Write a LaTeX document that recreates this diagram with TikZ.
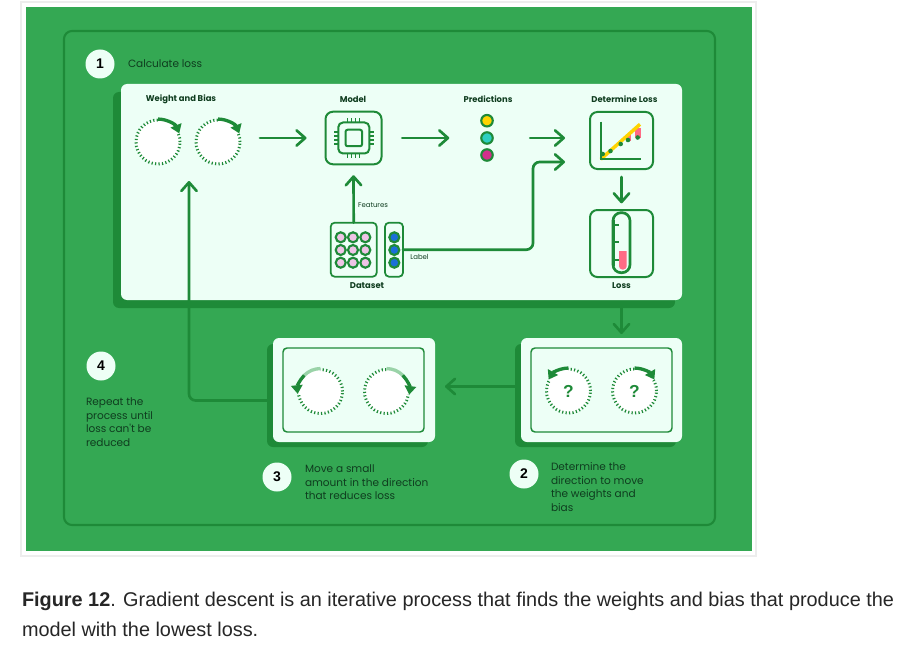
\documentclass[tikz,border=0pt]{standalone}
\usepackage{fontspec}
\setmainfont{Liberation Sans}
\newfontfamily\labelfont{Poppins}
\usetikzlibrary{arrows.meta}
\usetikzlibrary{calc}
\definecolor{leaf}{HTML}{34A853}
\definecolor{pine}{HTML}{1E8A38}
\definecolor{mint}{HTML}{EDFFF6}
\definecolor{ink}{HTML}{0F3D1F}
\definecolor{rose}{HTML}{FF6B85}
\definecolor{sun}{HTML}{FFD400}
\definecolor{lilac}{HTML}{EFC4E6}
\definecolor{faded}{HTML}{9AD3A8}
\definecolor{teal}{HTML}{2CCFC0}
\definecolor{berry}{HTML}{D32F8C}
\definecolor{azure}{HTML}{1A6FD8}
\def\px{0.75pt}
\tikzset{
   sized/.style 2 args={minimum width=#1*\px,minimum height=#2*\px,inner sep=0pt,outer sep=0pt},
   panel/.style={fill=mint,rounded corners=4.5pt},
   shade/.style={fill=pine,rounded corners=4.5pt},
   iconbox/.style={draw=pine,line width=1.5pt,rounded corners=5.5pt},
   frame/.style={draw=pine,line width=1.1pt,rounded corners=3pt},
   flow/.style={draw=pine,line width=2pt,rounded corners=5pt,line cap=round,
      -{Straight Barb[length=6.5pt,width=11.5pt,line width=2pt,round]}},
   stepnum/.style={circle,fill=mint,inner sep=0pt,outer sep=0pt,minimum size=29*\px,
      font=\fontsize{10.5}{12}\selectfont\bfseries,text=black},
   steptext/.style={anchor=north west,align=left,inner sep=0pt,outer sep=0pt,text=ink,
      font=\labelfont\fontsize{7.9}{10.3}\selectfont},
   title/.style={inner sep=0pt,outer sep=0pt,text=ink,font=\labelfont\fontsize{6.3}{7}\selectfont\bfseries},
   small/.style={inner sep=0pt,outer sep=0pt,text=ink,font=\labelfont\fontsize{5.2}{6}\selectfont},
   dial/.style={circle,fill=white,draw=pine,line width=2.2pt,dash pattern=on 0.9pt off 1.7pt,
      minimum size=44*\px,inner sep=0pt,outer sep=0pt,text=pine,
      font=\fontsize{13}{14}\selectfont\bfseries},
   turn/.style={draw=pine,line width=2.5pt,-{Triangle[length=6.5pt,width=8.5pt]}},
   trail/.style={draw=faded,line width=2.5pt},
   ball/.style={circle,draw=pine,line width=1.6pt,inner sep=0pt,outer sep=0pt,minimum size=#1*\px},
   pin/.style={draw=pine,line width=1pt},
}
\newcommand{\dialarc}[4][turn]{
   \draw[draw=white,line width=2.6pt] ([shift={(#3:15.6pt)}]#2.center) arc[start angle=#3,end angle=#4,radius=15.6pt];
   \draw[#1] ([shift={(#3:17.2pt)}]#2.center) arc[start angle=#3,end angle=#4,radius=17.2pt];
}
\begin{document}
\begin{tikzpicture}[x=\px,y=-\px]
   \useasboundingbox[fill=white] (0,0) rectangle (902,649);
   \node[sized={735}{554},draw=black!7,line width=0.8pt,anchor=north west] (sheet) at (21,2) {};
   \node[sized={726}{544},fill=leaf,anchor=north west] (ground) at (26,7) {};
   \node[sized={651}{494},draw=pine,line width=1.6pt,rounded corners=6pt,anchor=north west] (outer) at (64,31) {};

   \node[sized={562}{216},shade,anchor=north west] (mainshade) at (113,92) {};
   \node[sized={561}{216},panel,anchor=north west] (main) at (121,84) {};
   \node[sized={161}{103},shade,anchor=north west] (moveshade) at (267,344) {};
   \node[sized={162}{104},panel,anchor=north west] (move) at (273,338) {};
   \node[sized={161}{103},shade,anchor=north west] (dirshade) at (515,344) {};
   \node[sized={161}{104},panel,anchor=north west] (dir) at (521,338) {};
   \node[sized={141}{84},frame,anchor=north west] (moveframe) at (283,348) {};
   \node[sized={141}{84},frame,anchor=north west] (dirframe) at (531,348) {};

   \node[stepnum] (one) at (100,64) {1};
   \node[stepnum] (four) at (101,366) {4};
   \node[stepnum] (three) at (277,477) {3};
   \node[stepnum] (two) at (524,474) {2};

   \node[steptext,anchor=west] (onetext) at (128,63.5) {Calculate loss};
   \node[steptext] (fourtext) at (86,397.5) {Repeat the\\process until\\loss can't be\\reduced};
   \node[steptext] (threetext) at (305,464.5) {Move a small\\amount in the direction\\that reduces loss};
   \node[steptext] (twotext) at (551,462.5) {Determine the\\direction to move\\the weights and\\bias};

   \node[title] (weighttitle) at (181,99.5) {Weight and Bias};
   \node[title] (modeltitle) at (353,99.5) {Model};
   \node[title] (predtitle) at (488,99.5) {Predictions};
   \node[title] (determinetitle) at (624.5,99.5) {Determine Loss};
   \node[title] (datatitle) at (367,285.5) {Dataset};
   \node[title] (losstitle) at (621.5,285.5) {Loss};
   \node[small] (featuretext) at (373,205.5) {Features};
   \node[small] (labeltext) at (419.5,257) {Label};

   \node[dial] (weightdial) at (158,142) {};
   \node[dial] (biasdial) at (218,142) {};
   \dialarc{weightdial}{90}{22}
   \dialarc{biasdial}{90}{22}
   \node[dial] (dirweight) at (568.5,391) {?};
   \node[dial] (dirbias) at (634.5,391) {?};
   \dialarc{dirweight}{90}{150}
   \dialarc{dirbias}{90}{30}
   \node[dial] (moveweight) at (320.5,391.5) {};
   \node[dial] (movebias) at (386.5,391.5) {};
   \dialarc[trail]{moveweight}{90}{135}
   \dialarc{moveweight}{135}{186}
   \dialarc[trail]{movebias}{90}{45}
   \dialarc{movebias}{45}{-8}

   \node[sized={56}{52.5},iconbox] (model) at (353.5,138) {};
   \node[sized={31}{31},draw=pine,line width=1.5pt,rounded corners=3.5pt] (chip) at (353.8,138) {};
   \node[sized={16.5}{16.5},draw=pine,line width=1.5pt,rounded corners=1.5pt] (core) at (353.8,138) {};
   \foreach \off in {-6,-2,2,6} {
      \draw[pin] ($(chip.north)+(\off,0)$) -- ++(0,-4.5);
      \draw[pin] ($(chip.south)+(\off,0)$) -- ++(0,4.5);
      \draw[pin] ($(chip.west)+(0,\off)$) -- ++(-4.5,0);
      \draw[pin] ($(chip.east)+(0,\off)$) -- ++(4.5,0);
   }

   \node[ball=11.5,fill=sun] (predone) at (487,120.7) {};
   \node[ball=11.5,fill=teal] (predtwo) at (487,138) {};
   \node[ball=11.5,fill=berry] (predthree) at (487,155) {};

   \node[sized={46}{54},iconbox,line width=1.3pt,rounded corners=3pt] (features) at (353.7,249.7) {};
   \node[sized={18}{54},iconbox,line width=1.3pt,rounded corners=3pt] (labels) at (394,249.7) {};
   \foreach \row/\yy in {a/237.3,b/250,c/262.7} {
      \foreach \col/\xx in {a/340.7,b/353,c/365.3} {
         \node[ball=10,fill=lilac] (feat\row\col) at (\xx,\yy) {};
      }
      \node[ball=10,fill=azure] (lab\row) at (394.3,\yy) {};
   }

   \node[sized={63}{57},iconbox] (plot) at (621.5,140.5) {};
   \coordinate (plotcorner) at (600.7,159.3);
   \fill[rose] (635,128) rectangle (640.5,138);
   \fill[rose] (626,135) rectangle (631,141);
   \draw[draw=sun,line width=2.6pt] (plotcorner) -- (640,124.3);
   \draw[draw=pine,line width=1.4pt] (600.7,121.7) -- (plotcorner) -- (641,159.3);
   \foreach \xx/\yy in {602.7/154,610.5/151,620.7/144,628/140,637.7/137.5} {
      \fill[pine] (\xx,\yy) circle[radius=2.3];
   }

   \node[sized={63}{67},iconbox] (gauge) at (621.5,243.5) {};
   \fill[rose] (619,251) -- (626.7,251) [rounded corners=2.5pt] -- (626.7,269.5) -- (619,269.5) [sharp corners] -- cycle;
   \node[sized={17}{60},draw=pine,line width=2pt,rounded corners=6pt] (tube) at (621.5,242.7) {};
   \draw[draw=pine,line width=1pt] (614.3,220) -- (614.3,266);
   \foreach \yy in {225,242,260} {
      \draw[draw=pine,line width=1.5pt] (613,\yy) -- (619,\yy);
   }

   \coordinate (labelturn) at (533,162);
   \coordinate (labelend) at (565,162);
   \coordinate (repeatend) at (189,181);

   \draw[flow,shorten <=15pt,shorten >=14.25pt] (biasdial.east |- model.west) -- (model.west);
   \draw[flow,shorten <=15.5pt,shorten >=24pt] (model.east) -- (predtwo.west);
   \draw[flow,shorten <=28pt,shorten >=18.75pt] (predtwo.east) -- (predtwo.east -| plot.west);
   \draw[flow] (features.north) -- ($(model.south)+(0,11)$);
   \draw[flow] (labels.east) -| (labelturn) -- (labelend);
   \draw[flow,shorten <=6pt,shorten >=5pt] (plot.south) -- (gauge.north);
   \draw[flow,shorten <=6pt,shorten >=3pt] (main.south -| gauge.south) -- (dir.north -| gauge.south);
   \draw[flow,shorten <=4.5pt,shorten >=7.5pt] ($(dir.west)+(0,-3.5)$) -- ($(move.east)+(0,-3.5)$);
   \draw[flow] ($(moveshade.west)+(0,5)$) -| (repeatend);

   \node[anchor=north west,inner sep=0pt,outer sep=0pt,align=left,text=black!85,
      font=\fontsize{14.9}{22.5}\selectfont] (caption) at (22,592.5)
      {\textbf{Figure 12}. Gradient descent is an iterative process that finds the weights and bias that produce the\\model with the lowest loss.};
\end{tikzpicture}
\end{document}
